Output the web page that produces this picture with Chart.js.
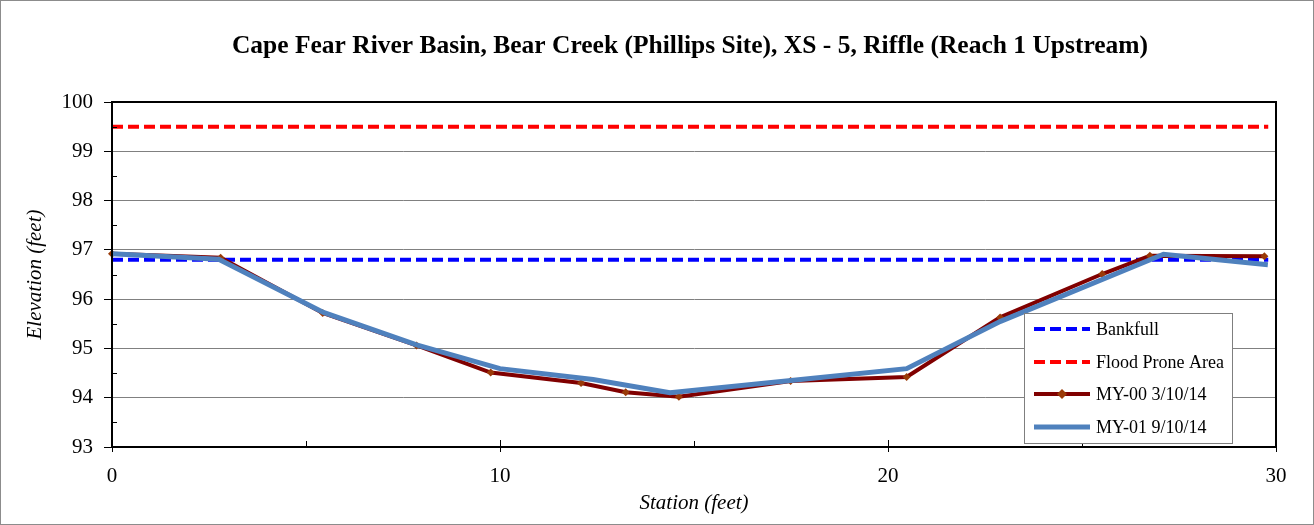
<!DOCTYPE html>
<html><head><meta charset="utf-8">
<script src="https://cdn.jsdelivr.net/npm/chart.js@4.4.0/dist/chart.umd.min.js"></script>
<style>html,body{margin:0;padding:0;background:#fff;} #c{display:block;}</style>
</head><body>
<canvas id="c" width="1314" height="525"></canvas>
<script>
const chartTitle = "Cape Fear River Basin, Bear Creek (Phillips Site), XS - 5, Riffle (Reach 1 Upstream)";
const xAxisTitle = "Station (feet)";
const yAxisTitle = "Elevation (feet)";
const seriesNames = ["Bankfull", "Flood Prone Area", "MY-00 3/10/14", "MY-01 9/10/14"];

const bankfullStation = [0, 29.8];
const bankfullElev = [96.8, 96.8];
const floodStation = [0, 29.8];
const floodElev = [99.5, 99.5];

const my00Station = [0, 2.8, 5.43, 7.85, 9.76, 12.09, 13.24, 14.61, 17.49, 20.48, 22.89, 25.52, 26.75, 29.7];
const my00Elev = [96.92, 96.84, 95.72, 95.06, 94.51, 94.3, 94.11, 94.02, 94.34, 94.42, 95.63, 96.51, 96.88, 96.87];

const my01Station = [0, 2.75, 5.45, 7.85, 10.0, 12.4, 14.38, 17.5, 20.48, 22.9, 27.1, 29.79];
const my01Elev = [96.92, 96.81, 95.73, 95.07, 94.59, 94.37, 94.1, 94.35, 94.59, 95.55, 96.91, 96.7];

const xTickValues = [0, 10, 20, 30];
const yTickValues = [93, 94, 95, 96, 97, 98, 99, 100];
const xMinorTicks = [5, 15, 25];
const yMinorTicks = [93.5, 94.5, 95.5, 96.5, 97.5, 98.5, 99.5];

const toPts = (xs, ys) => xs.map((x, i) => ({x: x, y: ys[i]}));
const FONT = "'Liberation Serif', 'Times New Roman', serif";

const decor = {
  id: 'decor',
  beforeDraw(chart) {
    const ctx = chart.ctx;
    ctx.save();
    ctx.fillStyle = '#fff';
    ctx.fillRect(0, 0, chart.width, chart.height);
    ctx.restore();
  },
  afterDraw(chart) {
    const {ctx, chartArea: a, scales: {x, y}} = chart;
    ctx.save();
    // title
    ctx.fillStyle = '#000';
    ctx.font = "bold 25.5px " + FONT;
    ctx.textAlign = 'center';
    ctx.textBaseline = 'alphabetic';
    ctx.fillText(chartTitle, 690, 53);

    // plot frame
    ctx.strokeStyle = '#000';
    ctx.lineWidth = 2;
    ctx.strokeRect(a.left, a.top, a.right - a.left, a.bottom - a.top);
    // minor ticks
    ctx.lineWidth = 1;
    ctx.beginPath();
    yMinorTicks.forEach(v => {
      const p = Math.round(y.getPixelForValue(v)) + 0.5;
      ctx.moveTo(a.left, p); ctx.lineTo(a.left + 5, p);
    });
    xMinorTicks.forEach(v => {
      const p = Math.round(x.getPixelForValue(v)) + 0.5;
      ctx.moveTo(p, a.bottom); ctx.lineTo(p, a.bottom - 6);
    });
    xTickValues.forEach(v => {
      const p = Math.round(x.getPixelForValue(v)) + 0.5;
      ctx.moveTo(p, a.bottom); ctx.lineTo(p, a.bottom - 7);
    });
    ctx.stroke();

    // legend box
    const lx = a.left + 912, ly = a.top + 211, lw = 208, lh = 130;
    ctx.fillStyle = '#fff';
    ctx.fillRect(lx, ly, lw, lh);
    ctx.strokeStyle = '#7f7f7f';
    ctx.lineWidth = 1;
    ctx.strokeRect(lx + 0.5, ly + 0.5, lw, lh);
    const ds = chart.data.datasets;
    const rowY = [16, 49, 81, 114];
    const legendOrder = [0, 1, 2, 3];
    ctx.font = "18px " + FONT;
    ctx.textBaseline = 'middle';
    ctx.textAlign = 'left';
    legendOrder.forEach((di, i) => {
      const d = ds[di];
      const yy = ly + rowY[i];
      const x0 = lx + 10, x1 = lx + 66;
      ctx.save();
      ctx.strokeStyle = d.borderColor;
      ctx.lineWidth = d.borderWidth;
      ctx.setLineDash(d.borderDash || []);
      ctx.beginPath();
      ctx.moveTo(x0, yy); ctx.lineTo(x1, yy);
      ctx.stroke();
      ctx.restore();
      if (d.pointRadius > 0) {
        const cx = (x0 + x1) / 2, r = d.pointRadius;
        ctx.fillStyle = d.pointBackgroundColor;
        ctx.beginPath();
        ctx.moveTo(cx, yy - r - 1); ctx.lineTo(cx + r + 1, yy);
        ctx.lineTo(cx, yy + r + 1); ctx.lineTo(cx - r - 1, yy);
        ctx.closePath(); ctx.fill();
      }
      ctx.fillStyle = '#000';
      ctx.fillText(d.label, lx + 72, yy + 1);
    });

    // outer border
    ctx.strokeStyle = '#8c8c8c';
    ctx.lineWidth = 1;
    ctx.strokeRect(0.5, 0.5, chart.width - 1, chart.height - 1);
    ctx.restore();
  }
};

new Chart(document.getElementById('c'), {
  type: 'scatter',
  data: {
    datasets: [
      {label: seriesNames[0], data: toPts(bankfullStation, bankfullElev), showLine: true,
       borderColor: '#0000ff', backgroundColor: '#0000ff', borderWidth: 4, borderDash: [11, 5],
       pointRadius: 0, order: 3},
      {label: seriesNames[1], data: toPts(floodStation, floodElev), showLine: true,
       borderColor: '#ff0000', backgroundColor: '#ff0000', borderWidth: 4, borderDash: [11, 5],
       pointRadius: 0, order: 2},
      {label: seriesNames[2], data: toPts(my00Station, my00Elev), showLine: true,
       borderColor: '#800000', backgroundColor: '#993300', borderWidth: 4,
       pointStyle: 'rectRot', pointRadius: 4, pointBackgroundColor: '#9a3a08',
       pointBorderColor: '#9a3a08', pointBorderWidth: 0, order: 1, clip: false},
      {label: seriesNames[3], data: toPts(my01Station, my01Elev), showLine: true,
       borderColor: '#4f81bd', backgroundColor: '#4f81bd', borderWidth: 5,
       pointRadius: 0, order: 0, clip: false}
    ]
  },
  options: {
    responsive: false,
    animation: false,
    devicePixelRatio: 1,
    layout: {padding: {left: 0, right: 38, top: 102, bottom: 0}},
    plugins: {
      legend: {display: false},
      tooltip: {enabled: false},
      title: {display: false}
    },
    scales: {
      x: {
        type: 'linear', min: 0, max: 30,
        afterBuildTicks: s => { s.ticks = xTickValues.map(v => ({value: v})); },
        afterFit: s => { s.height = 78; },
        grid: {drawOnChartArea: false, drawTicks: true, tickLength: 5, tickColor: '#000', tickWidth: 1},
        border: {display: true, color: '#000', width: 2},
        ticks: {color: '#000', font: {family: FONT, size: 21}, padding: 12, maxRotation: 0},
        title: {display: true, text: xAxisTitle, color: '#000',
                font: {family: FONT, size: 21, style: 'italic'}, padding: {top: 2, bottom: 9}}
      },
      y: {
        type: 'linear', min: 93, max: 100,
        afterBuildTicks: s => { s.ticks = yTickValues.map(v => ({value: v})); },
        afterFit: s => { s.width = 112; },
        grid: {color: '#808080', lineWidth: 1, drawTicks: true, tickLength: 8, tickColor: '#000'},
        border: {display: true, color: '#000', width: 2},
        ticks: {color: '#000', font: {family: FONT, size: 21}, padding: 11},
        title: {display: true, text: yAxisTitle, color: '#000',
                font: {family: FONT, size: 21, style: 'italic'}, padding: {top: 23, bottom: 0}}
      }
    }
  },
  plugins: [decor]
});
</script>
</body></html>
